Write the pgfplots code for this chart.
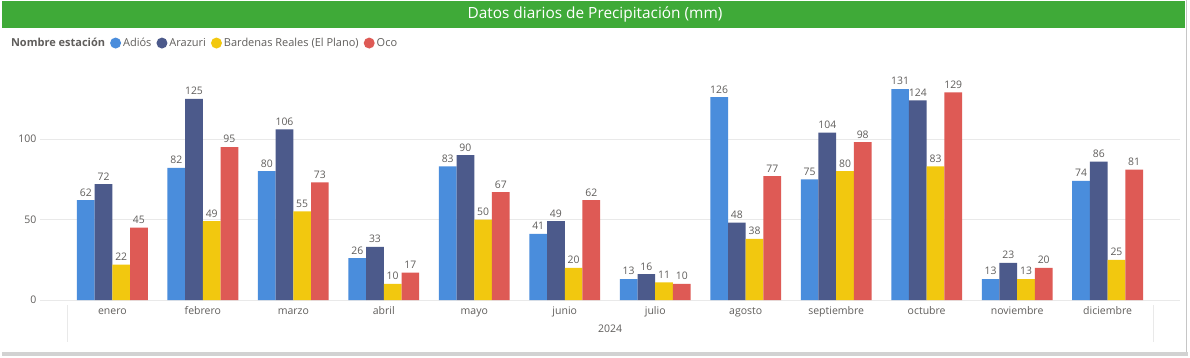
\documentclass[border=0pt]{standalone}
\usepackage{fontspec}
\setmainfont{Open Sans}
\usepackage{pgfplots}
\pgfplotsset{compat=1.18}
\definecolor{cA}{HTML}{4A8DDC}
\definecolor{cB}{HTML}{4C5A8B}
\definecolor{cC}{HTML}{F2C80F}
\definecolor{cD}{HTML}{DE5A55}
\definecolor{hdr}{HTML}{3FAA38}
\definecolor{txt}{HTML}{605E5C}
\definecolor{grd}{HTML}{E9E9E9}
\begin{document}
\begin{tikzpicture}[x=1pt,y=1pt]
\path[use as bounding box] (0,0) rectangle (1190,357);
\fill[gray!35] (2,1) rectangle (1188,5);
\fill[white] (0,5) rectangle (1186,357);
\draw[gray!45, line width=1.2pt] (1186.5,5) -- (1186.5,357);
\fill[hdr] (2,329) rectangle (1185,356);
\node[white, font=\fontsize{15.4}{17}\selectfont] at (595,342.5) {Datos diarios de Precipitación (mm)};
\draw[grd, line width=0.8pt] (67,52) -- (67,15);
\draw[grd, line width=0.8pt] (1153,52) -- (1153,15);
\node[txt, font=\fontsize{10.5}{12}\selectfont] at (610,28) {2024};
\begin{axis}[
  at={(40pt,57pt)}, anchor=south west, scale only axis,
  width=1140pt, height=225.4pt,
  xmin=-0.8, xmax=11.8, ymin=0, ymax=140,
  ybar=0pt, bar width=17.7pt,
  ytick={0,50,100},
  xtick={0,...,11},
  xticklabels={enero,febrero,marzo,abril,mayo,junio,julio,agosto,septiembre,octubre,noviembre,diciembre},
  axis line style={draw=none}, major tick length=0pt,
  ymajorgrids, grid style={grd, line width=0.8pt},
  tick label style={txt, font=\fontsize{10.5}{12}\selectfont},
  xticklabel style={anchor=north, text height=8pt, text depth=2.5pt, yshift=-3pt},
  /pgf/number format/assume math mode=true,
  nodes near coords,
  nodes near coords style={txt, font=\fontsize{10.4}{12}\selectfont, inner sep=3.8pt},
  clip=false,
  legend columns=-1,
  legend style={draw=none, fill=none, at={(axis description cs:-0.030,1.14)}, anchor=west,
    font=\fontsize{11}{13}\selectfont, text=txt,
    /tikz/every even column/.append style={column sep=3pt},
    /tikz/every odd column/.append style={column sep=0pt}},
  legend image code/.code={\fill (3pt,0pt) circle (5.5pt);},
]
\addlegendimage{empty legend}
\addlegendentry{\textbf{Nombre estación}\hspace{2pt}}
\addplot[fill=cA, draw=none] coordinates {(0,62) (1,82) (2,80) (3,26) (4,83) (5,41) (6,13) (7,126) (8,75) (9,131) (10,13) (11,74)};
\addlegendentry{Adiós}
\addplot[fill=cB, draw=none] coordinates {(0,72) (1,125) (2,106) (3,33) (4,90) (5,49) (6,16) (7,48) (8,104) (9,124) (10,23) (11,86)};
\addlegendentry{Arazuri}
\addplot[fill=cC, draw=none] coordinates {(0,22) (1,49) (2,55) (3,10) (4,50) (5,20) (6,11) (7,38) (8,80) (9,83) (10,13) (11,25)};
\addlegendentry{Bardenas Reales (El Plano)}
\addplot[fill=cD, draw=none] coordinates {(0,45) (1,95) (2,73) (3,17) (4,67) (5,62) (6,10) (7,77) (8,98) (9,129) (10,20) (11,81)};
\addlegendentry{Oco}
\end{axis}
\end{tikzpicture}
\end{document}
